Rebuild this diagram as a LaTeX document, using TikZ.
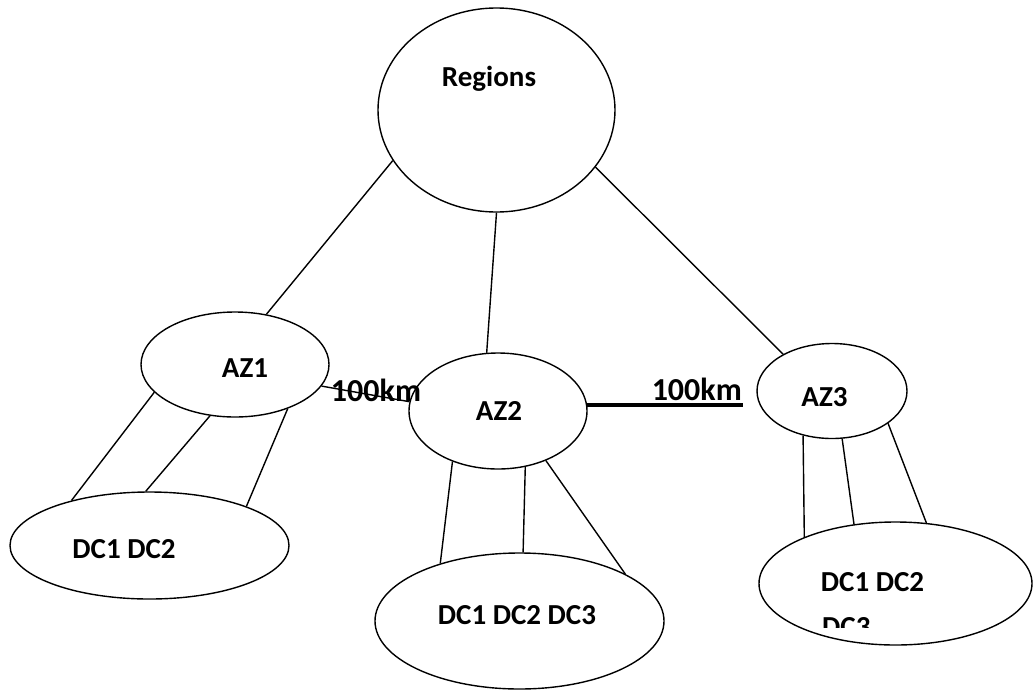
\documentclass[tikz,border=0pt]{standalone}
\usepackage{fontspec}
\setmainfont{Carlito}
\usetikzlibrary{shapes.geometric, positioning}

\begin{document}
\begin{tikzpicture}[
    x=1pt, y=-1pt,
    oval/.style={ellipse, draw, line width=1.4pt, inner sep=0pt},
    region/.style={oval, minimum width=237pt, minimum height=204pt},
    zone/.style={oval},
    dcset/.style={oval},
    txt/.style={font=\fontsize{29}{35}\selectfont\bfseries, inner sep=0pt, anchor=base},
    dist/.style={txt, font=\fontsize{32}{38}\selectfont\bfseries},
    link/.style={line width=1.4pt},
    wide/.style={line width=4pt}
]
\useasboundingbox (0,0) rectangle (1033,691);

% Region
\node[region, label={[txt, xshift=-7.5pt, yshift=31pt]center:Regions}] (regions) at (496.5,110) {};

% Availability zones
\node[zone, minimum width=188pt, minimum height=105pt, label={[txt, xshift=10pt, yshift=-3.5pt]center:AZ1}] (az1) at (235,364.5) {};
\node[zone, minimum width=178pt, minimum height=116pt, label={[txt, xshift=1pt]center:AZ2}] (az2) at (498,411) {};
\node[zone, minimum width=150pt, minimum height=95pt, label={[txt, xshift=-7.5pt, yshift=-6pt]center:AZ3}] (az3) at (832,391) {};

% Data centres
\node[dcset, minimum width=279pt, minimum height=107pt, label={[txt, xshift=-25.5pt, yshift=-3.5pt]center:DC1 DC2}] (dc1) at (149.5,545.5) {};
\node[dcset, minimum width=289pt, minimum height=136pt, label={[txt, xshift=-2.5pt, yshift=6pt]center:DC1 DC2 DC3}] (dc2) at (519.5,621) {};
\node[dcset, minimum width=273pt, minimum height=123pt, label={[txt, xshift=-23pt, yshift=1.5pt]center:DC1 DC2}] (dc3) at (895.5,583.5) {};

% Second line of the right box, cut off
\begin{scope}
  \clip (750,540) rectangle (1030,627);
  \node[txt, anchor=base west] (dc3more) at (822,636) {DC3};
\end{scope}

% Distances
\node[dist] (km1) at (376,401) {100km};
\coordinate (kmend) at (743,404.5);
\node[dist, anchor=base east] (km2) at (742,400) {100km};

% Connections
\draw[link] (regions.206) -- (az1.58);
\draw[link] (regions.270) -- (az2.101);
\draw[link] (regions.-30) -- (az3.143);
\draw[link] (az1.-14) -- (az2.174);
\draw[wide] (az2.4) -- (az2.4 -| kmend);
\draw[link] (az1.199) -- (dc1.150);
\draw[link] (az1.244) -- (dc1.94);
\draw[link] (az1.-40) -- (dc1.22);
\draw[link] (az2.228) -- (dc2.144);
\draw[link] (az2.-64) -- (dc2.87);
\draw[link] (az2.-46) -- (dc2.24);
\draw[link] (az3.237) -- (dc3.153);
\draw[link] (az3.-78) -- (dc3.125);
\draw[link] (az3.-30) -- (dc3.63);

\end{tikzpicture}
\end{document}
